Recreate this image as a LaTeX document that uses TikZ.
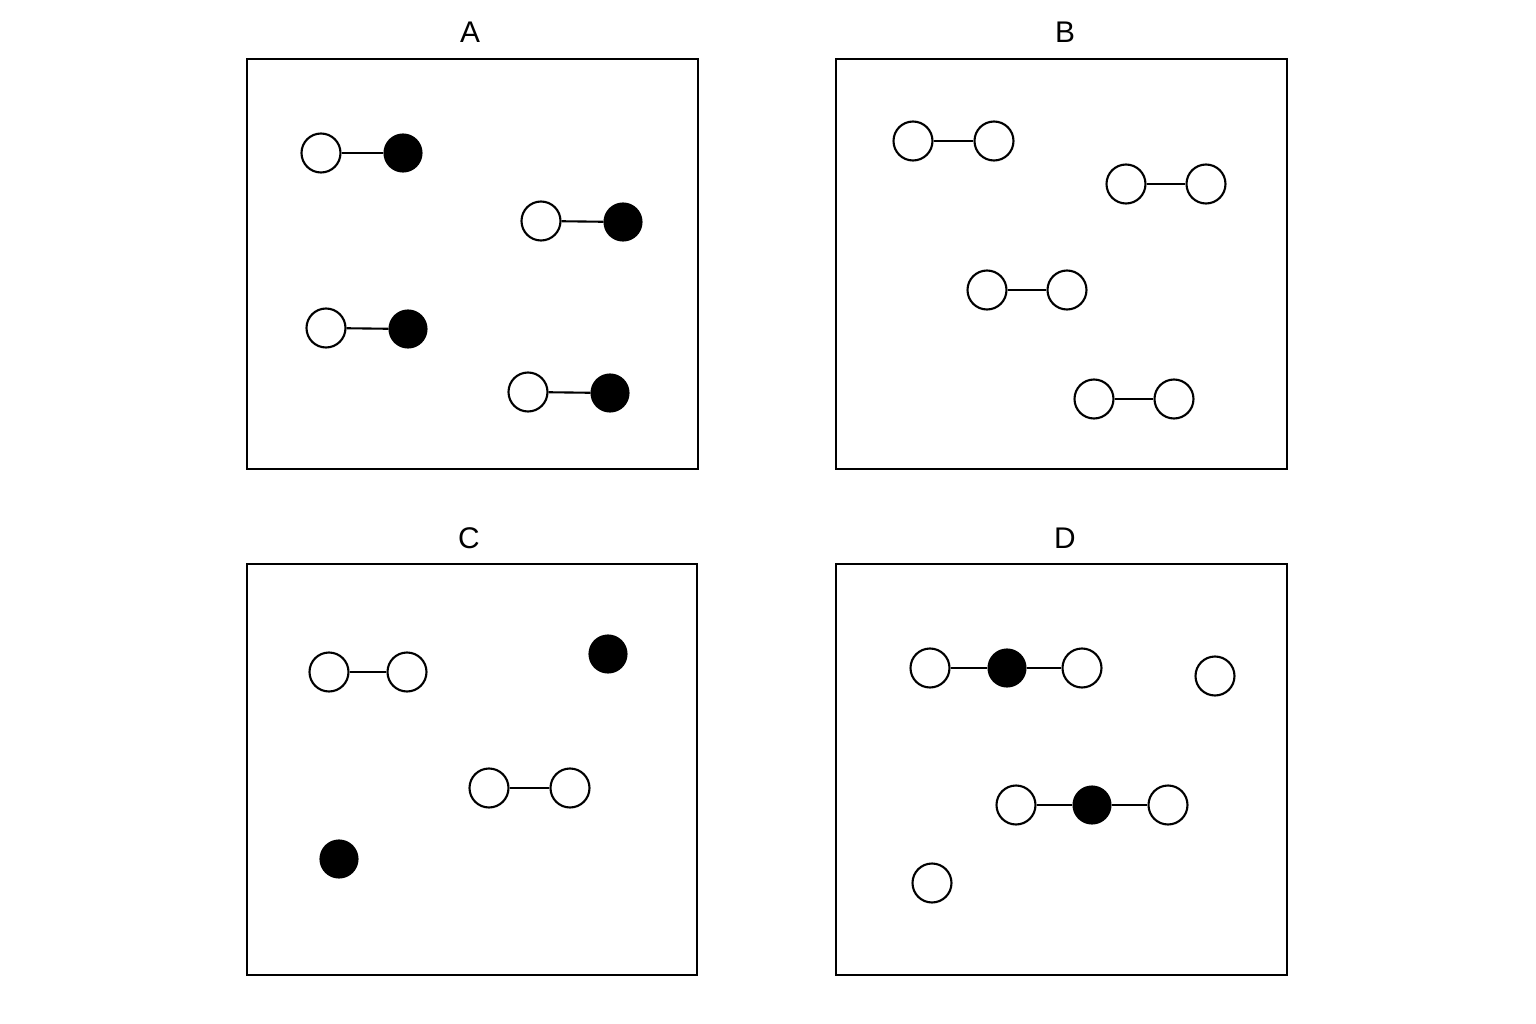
\documentclass[tikz,border=0pt]{standalone}
\usepackage{fontspec}
\setmainfont{Liberation Sans}
\begin{document}
\begin{tikzpicture}[%
        x = 0.02cm,
        y = -0.02cm,
        line width = 1.2pt,
        wht/.style = {circle, draw = black, fill = white, minimum size = 0.78cm, inner sep = 0pt},
        blk/.style = {circle, draw = black, fill = black, minimum size = 0.74cm, inner sep = 0pt},
        frame/.style = {draw = black, line width = 1.3pt},
        title/.style = {font = \fontsize{17}{17}\selectfont}
    ]

        % Fix the page size.
        \useasboundingbox (0,0) rectangle (1536,1024);

        % The four frames and their titles.
        \draw[frame] (247,59) rectangle (698,469);
        \draw[frame] (836,59) rectangle (1287,469);
        \draw[frame] (247,564) rectangle (697,975);
        \draw[frame] (836,564) rectangle (1287,975);
        \node[title] (tA) at (470,32) {A};
        \node[title] (tB) at (1065,32) {B};
        \node[title] (tC) at (469,538) {C};
        \node[title] (tD) at (1065,538) {D};

        % Panel A: white and black pairs.
        \node[wht] (a1) at (321,153) {};
        \node[blk] (a2) at (403,153) {};
        \node[wht] (a3) at (541,221) {};
        \node[blk] (a4) at (623,222) {};
        \node[wht] (a5) at (326,328) {};
        \node[blk] (a6) at (408,329) {};
        \node[wht] (a7) at (528,392) {};
        \node[blk] (a8) at (610,393) {};
        \draw (a1) -- (a2);
        \draw (a3) -- (a4);
        \draw (a5) -- (a6);
        \draw (a7) -- (a8);

        % Panel B: white pairs.
        \node[wht] (b1) at (913,141) {};
        \node[wht] (b2) at (994,141) {};
        \node[wht] (b3) at (1126,184) {};
        \node[wht] (b4) at (1206,184) {};
        \node[wht] (b5) at (987,290) {};
        \node[wht] (b6) at (1067,290) {};
        \node[wht] (b7) at (1094,399) {};
        \node[wht] (b8) at (1174,399) {};
        \draw (b1) -- (b2);
        \draw (b3) -- (b4);
        \draw (b5) -- (b6);
        \draw (b7) -- (b8);

        % Panel C: white pairs and lone black ones.
        \node[wht] (c1) at (329,672) {};
        \node[wht] (c2) at (407,672) {};
        \node[wht] (c3) at (489,788) {};
        \node[wht] (c4) at (570,788) {};
        \node[blk] (c5) at (608,654) {};
        \node[blk] (c6) at (339,859) {};
        \draw (c1) -- (c2);
        \draw (c3) -- (c4);

        % Panel D: triples and lone white ones.
        \node[wht] (d1) at (930,668) {};
        \node[blk] (d2) at (1007,668) {};
        \node[wht] (d3) at (1082,668) {};
        \node[wht] (d4) at (1215,676) {};
        \node[wht] (d5) at (1016,805) {};
        \node[blk] (d6) at (1092,805) {};
        \node[wht] (d7) at (1168,805) {};
        \node[wht] (d8) at (932,883) {};
        \draw (d1) -- (d2) -- (d3);
        \draw (d5) -- (d6) -- (d7);
    \end{tikzpicture}
\end{document}
